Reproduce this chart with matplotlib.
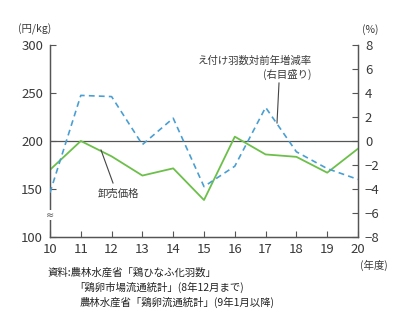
import matplotlib
matplotlib.use("Agg")
import matplotlib.pyplot as plt

plt.rcParams['font.family'] = ['Noto Sans CJK JP', 'DejaVu Sans']
plt.rcParams['font.size'] = 8.5

# 年度と系列
years = [10, 11, 12, 13, 14, 15, 16, 17, 18, 19, 20]
price = [170, 200, 184, 164, 171.5, 138.5, 204.5, 186, 183.5, 167, 192]      # 卸売価格 (円/kg)
chicks = [-4.3, 3.8, 3.7, -0.3, 1.9, -3.8, -2.1, 2.8, -0.9, -2.3, -3.2]      # 対前年増減率 (%)

left_ticks = [100, 150, 200, 250, 300]
right_ticks = [-8, -6, -4, -2, 0, 2, 4, 6, 8]

green = '#6cc04a'
blue = '#4a9fd2'
axis_col = '#555555'
text_col = '#3a3a3a'

fig = plt.figure(figsize=(4.0, 3.26), dpi=100)
ax = fig.add_axes([0.125, 0.273, 0.77, 0.589])
ax2 = ax.twinx()

ax.plot(years, price, color=green, lw=1.3, zorder=3)
ax2.plot(years, chicks, color=blue, lw=1.2, ls=(0, (3.5, 2.5)), zorder=3)
ax.axhline(200, color=axis_col, lw=0.9, zorder=2)

ax.set_xlim(10, 20)
ax.set_ylim(100, 300)
ax2.set_ylim(-8, 8)
ax.set_xticks(years)
ax.set_yticks(left_ticks)
ax2.set_yticks(right_ticks)
ax2.set_yticklabels([f'{t}'.replace('-', '−') for t in right_ticks])

for a in (ax, ax2):
    a.spines['top'].set_visible(False)
    for s in ('left', 'right', 'bottom'):
        a.spines[s].set_color(axis_col)
        a.spines[s].set_linewidth(0.9)
    a.tick_params(direction='in', length=4, width=0.8, color=axis_col,
                  labelcolor=text_col, labelsize=9.5)
ax.tick_params(axis='y', pad=5)
ax2.tick_params(axis='y', pad=5)
ax.tick_params(axis='x', pad=4)

# 軸の省略記号 (上に重なる ax2 のスパインを隠すため ax2 側に描く)
ax2.text(10, 123, '≈', transform=ax.transData, ha='center', va='center',
         fontsize=7, color=axis_col, family='DejaVu Sans',
         bbox=dict(facecolor='white', edgecolor='none', pad=0.2), clip_on=False, zorder=5)

# 単位
fig.text(0.045, 0.91, '(円/kg)', fontsize=7.5, color=text_col, va='center')
fig.text(0.905, 0.91, '(%)', fontsize=7.5, color=text_col, va='center')
fig.text(0.935, 0.185, '(年度)', fontsize=7.5, color=text_col, ha='center', va='center')

# 系列の注記
fig.text(0.78, 0.815, 'え付け羽数対前年増減率', fontsize=7.5, color=text_col, ha='right', va='center')
fig.text(0.78, 0.772, '(右目盛り)', fontsize=7.5, color=text_col, ha='right', va='center')
fig.add_artist(plt.Line2D([279 / 400, 277 / 400], [1 - 83 / 326, 1 - 123 / 326],
                          color='#444444', lw=0.8))
fig.text(0.295, 1 - 194 / 326, '卸売価格', fontsize=7.5, color=text_col, ha='center', va='center')
fig.add_artist(plt.Line2D([101 / 400, 113 / 400], [1 - 150 / 326, 1 - 183 / 326],
                          color='#444444', lw=0.8))

# 資料
src = [
    (0.118, '資料:農林水産省「鶏ひなふ化羽数」'),
    (0.185, '「鶏卵市場流通統計」(8年12月まで)'),
    (0.2, '農林水産省「鶏卵流通統計」(9年1月以降)'),
]
for i, (x, s) in enumerate(src):
    fig.text(x, 0.165 - i * 0.047, s, fontsize=7.5, color='#222222', va='center')

fig.savefig('out.png', dpi=100)
